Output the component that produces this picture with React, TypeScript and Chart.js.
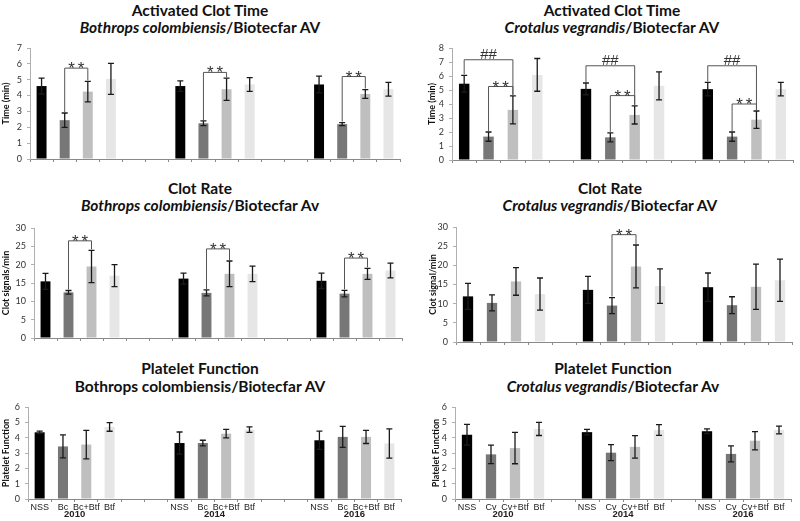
import React, { useEffect, useRef } from "react";
import { Chart, registerables } from "chart.js";
Chart.register(...registerables);

const YEARS = ["2010", "2014", "2016"];
const BC_TREATMENTS = ["NSS", "Bc", "Bc+Btf", "Btf"];
const CV_TREATMENTS = ["NSS", "Cv", "Cv+Btf", "Btf"];
const TREATMENT_COLORS = ["#000000", "#777777", "#bfbfbf", "#e6e6e6"];

// Activated Clot Time (min) — Bothrops colombiensis; per year: NSS, Bc, Bc+Btf, Btf
const actBcMean = [4.6, 2.45, 4.25, 5.05, 4.6, 2.25, 4.4, 4.7, 4.7, 2.2, 4.1, 4.4];
const actBcErr = [0.5, 0.45, 0.65, 0.98, 0.33, 0.15, 0.7, 0.43, 0.53, 0.1, 0.28, 0.43];
// Activated Clot Time (min) — Crotalus vegrandis
const actCvMean = [5.45, 1.67, 3.58, 6.08, 5.08, 1.62, 3.22, 5.3, 5.06, 1.67, 2.88, 5.06];
const actCvErr = [0.6, 0.33, 1.0, 1.17, 0.42, 0.32, 0.65, 1.0, 0.48, 0.33, 0.62, 0.48];
// Clot Rate (signals/min) — Bothrops colombiensis
const crBcMean = [15.45, 12.45, 19.5, 17.0, 16.2, 12.3, 17.5, 17.5, 15.6, 12.1, 17.5, 18.4];
const crBcErr = [2.2, 0.5, 4.4, 3.0, 1.5, 0.8, 3.5, 2.1, 2.1, 0.9, 1.5, 2.0];
// Clot Rate — Crotalus vegrandis
const crCvMean = [11.9, 10.2, 15.8, 12.5, 13.6, 9.5, 19.7, 14.6, 14.3, 9.6, 14.4, 16.1];
const crCvErr = [3.4, 2.1, 3.6, 4.2, 3.5, 2.1, 5.6, 4.5, 3.7, 2.2, 5.9, 5.5];
// Platelet Function — Bothrops colombiensis
const pfBcMean = [4.35, 3.43, 3.55, 4.7, 3.65, 3.65, 4.26, 4.52, 3.83, 4.05, 4.05, 3.62];
const pfBcErr = [0.08, 0.75, 0.93, 0.28, 0.72, 0.18, 0.28, 0.18, 0.6, 0.68, 0.43, 0.95];
// Platelet Function — Crotalus vegrandis
const pfCvMean = [4.19, 2.91, 3.32, 4.57, 4.36, 3.02, 3.4, 4.5, 4.42, 2.94, 3.8, 4.5];
const pfCvErr = [0.68, 0.6, 1.02, 0.43, 0.18, 0.52, 0.73, 0.35, 0.15, 0.52, 0.6, 0.25];

// Significance brackets: year group, from treatment, to treatment, bracket level (y units), mark
const actBcBrackets = [
  { group: 0, from: 1, to: 2, level: 5.73, mark: "**" },
  { group: 1, from: 1, to: 2, level: 5.46, mark: "**" },
  { group: 2, from: 1, to: 2, level: 5.2, mark: "**" },
];
const actCvBrackets = [
  { group: 0, from: 0, to: 2, level: 7.16, mark: "##" },
  { group: 0, from: 1, to: 2, level: 5.25, mark: "**" },
  { group: 1, from: 0, to: 2, level: 6.73, mark: "##" },
  { group: 1, from: 1, to: 2, level: 4.6, mark: "**" },
  { group: 2, from: 0, to: 2, level: 6.73, mark: "##" },
  { group: 2, from: 1, to: 2, level: 4.0, mark: "**" },
];
const crBcBrackets = [
  { group: 0, from: 1, to: 2, level: 26.5, mark: "**" },
  { group: 1, from: 1, to: 2, level: 24.3, mark: "**" },
  { group: 2, from: 1, to: 2, level: 21.8, mark: "**" },
];
const crCvBrackets = [{ group: 1, from: 1, to: 2, level: 28.0, mark: "**" }];
const noBrackets: any[] = [];

type Geom = { plotLeft: number; plotTop: number; plotRight: number; plotBottom: number; yw: number; xh: number; right: number };

type Panel = {
  key: string;
  treatments: string[];
  gap: number;
  means: number[];
  errs: number[];
  brackets: any[];
  yMax: number;
  yStep: number;
  yTitle: string;
  showX: boolean;
  g: Geom;
  t1: string;
  t2i: string;
  t2: string;
  tcx: number;
  ty1: number;
  ty2: number;
};

const PANELS: Panel[] = [
  {
    key: "tl", treatments: BC_TREATMENTS, gap: 2, means: actBcMean, errs: actBcErr, brackets: actBcBrackets,
    yMax: 7, yStep: 1, yTitle: "Time (min)", showX: false,
    g: { plotLeft: 30, plotTop: 48, plotRight: 400, plotBottom: 159, yw: 30, xh: 8, right: 405 },
    t1: "Activated Clot Time", t2i: "Bothrops colombiensis", t2: "/Biotecfar AV", tcx: 200, ty1: 10, ty2: 27,
  },
  {
    key: "tr", treatments: CV_TREATMENTS, gap: 1, means: actCvMean, errs: actCvErr, brackets: actCvBrackets,
    yMax: 8, yStep: 1, yTitle: "Time (min)", showX: false,
    g: { plotLeft: 452, plotTop: 48, plotRight: 793, plotBottom: 160, yw: 26, xh: 8, right: 800 },
    t1: "Activated Clot Time", t2i: "Crotalus vegrandis", t2: "/Biotecfar AV", tcx: 612, ty1: 10, ty2: 27,
  },
  {
    key: "ml", treatments: BC_TREATMENTS, gap: 2, means: crBcMean, errs: crBcErr, brackets: crBcBrackets,
    yMax: 30, yStep: 5, yTitle: "Clot signals/min", showX: false,
    g: { plotLeft: 34, plotTop: 228, plotRight: 402, plotBottom: 338, yw: 34, xh: 8, right: 405 },
    t1: "Clot Rate", t2i: "Bothrops colombiensis", t2: "/Biotecfar Av", tcx: 200, ty1: 188, ty2: 205,
  },
  {
    key: "mr", treatments: CV_TREATMENTS, gap: 1, means: crCvMean, errs: crCvErr, brackets: crCvBrackets,
    yMax: 30, yStep: 5, yTitle: "Clot signal/min", showX: false,
    g: { plotLeft: 456, plotTop: 227, plotRight: 792, plotBottom: 342, yw: 29, xh: 8, right: 800 },
    t1: "Clot Rate", t2i: "Crotalus vegrandis", t2: "/Biotecfar AV", tcx: 610, ty1: 188, ty2: 205,
  },
  {
    key: "bl", treatments: BC_TREATMENTS, gap: 2, means: pfBcMean, errs: pfBcErr, brackets: noBrackets,
    yMax: 6, yStep: 1, yTitle: "Platelet Function", showX: true,
    g: { plotLeft: 28, plotTop: 407, plotRight: 401, plotBottom: 499, yw: 28, xh: 22, right: 405 },
    t1: "Platelet Function", t2i: "", t2: "Bothrops colombiensis/Biotecfar AV", tcx: 200, ty1: 368, ty2: 386,
  },
  {
    key: "br", treatments: CV_TREATMENTS, gap: 1, means: pfCvMean, errs: pfCvErr, brackets: noBrackets,
    yMax: 6, yStep: 1, yTitle: "Platelet Function", showX: true,
    g: { plotLeft: 455, plotTop: 407, plotRight: 791, plotBottom: 499, yw: 25, xh: 22, right: 800 },
    t1: "Platelet Function", t2i: "Crotalus vegrandis", t2: "/Biotecfar Av", tcx: 613, ty1: 368, ty2: 386,
  },
];

const PT = 8;

function buildSlots(p: Panel) {
  const labels: string[] = [];
  const data: (number | null)[] = [];
  const colors: string[] = [];
  YEARS.forEach((_, g) => {
    p.treatments.forEach((t, i) => {
      labels.push(t);
      data.push(p.means[g * 4 + i]);
      colors.push(TREATMENT_COLORS[i]);
    });
    if (g < YEARS.length - 1) {
      for (let k = 0; k < p.gap; k++) {
        labels.push("");
        data.push(null);
        colors.push("#ffffff");
      }
    }
  });
  return { labels, data, colors };
}

function overlay(p: Panel) {
  const slot = (g: number, t: number) => g * (4 + p.gap) + t;
  return {
    id: "overlay_" + p.key,
    afterDatasetsDraw(chart: any) {
      const ctx = chart.ctx;
      const meta = chart.getDatasetMeta(0);
      const ys = chart.scales.y;
      ctx.save();
      ctx.strokeStyle = "#1a1a1a";
      ctx.lineWidth = 1.3;
      p.means.forEach((m, k) => {
        const g = Math.floor(k / 4), t = k % 4;
        const x = meta.data[slot(g, t)].x;
        const yt = ys.getPixelForValue(m + p.errs[k]);
        const yb = ys.getPixelForValue(m - p.errs[k]);
        ctx.beginPath();
        ctx.moveTo(x, yt); ctx.lineTo(x, yb);
        ctx.moveTo(x - 3, yt); ctx.lineTo(x + 3, yt);
        ctx.moveTo(x - 3, yb); ctx.lineTo(x + 3, yb);
        ctx.stroke();
      });
      ctx.strokeStyle = "#555555";
      ctx.lineWidth = 1;
      ctx.fillStyle = "#333333";
      ctx.textAlign = "center";
      p.brackets.forEach((b) => {
        const ka = b.group * 4 + b.from, kb = b.group * 4 + b.to;
        const xa = meta.data[slot(b.group, b.from)].x;
        const xb = meta.data[slot(b.group, b.to)].x;
        const yl = ys.getPixelForValue(b.level);
        const ya = ys.getPixelForValue(p.means[ka] + p.errs[ka]) - 1;
        const yb = ys.getPixelForValue(p.means[kb] + p.errs[kb]) - 1;
        ctx.beginPath();
        ctx.moveTo(xa, ya); ctx.lineTo(xa, yl); ctx.lineTo(xb, yl); ctx.lineTo(xb, yb);
        ctx.stroke();
        ctx.textBaseline = "alphabetic";
        if (b.mark === "**") {
          ctx.font = "17px 'Liberation Sans'";
          (ctx as any).letterSpacing = "3px";
          ctx.fillText(b.mark, (xa + xb) / 2 + 1.5, yl + 6);
        } else {
          ctx.font = "15px 'Liberation Sans'";
          (ctx as any).letterSpacing = "0px";
          ctx.fillText(b.mark, (xa + xb) / 2, yl - 1);
        }
      });
      (ctx as any).letterSpacing = "0px";
      if (p.showX) {
        ctx.font = "bold 9.5px 'Liberation Sans'";
        ctx.fillStyle = "#222222";
        ctx.textBaseline = "middle";
        YEARS.forEach((y, g) => {
          const x = (meta.data[slot(g, 1)].x + meta.data[slot(g, 2)].x) / 2;
          ctx.fillText(y, x, chart.chartArea.bottom + 15.5);
        });
      }
      ctx.restore();
    },
  };
}

function PanelChart({ p }: { p: Panel }) {
  const ref = useRef<HTMLCanvasElement>(null);
  const g = p.g;
  const left = g.plotLeft - g.yw;
  const top = g.plotTop - PT;
  const width = g.right - left;
  const height = g.plotBottom + g.xh - top;
  useEffect(() => {
    const { labels, data, colors } = buildSlots(p);
    const chart = new Chart(ref.current as HTMLCanvasElement, {
      type: "bar",
      data: {
        labels,
        datasets: [{ data, backgroundColor: colors, borderWidth: 0, barPercentage: 0.43, categoryPercentage: 1 }],
      },
      options: {
        animation: false,
        responsive: false,
        maintainAspectRatio: false,
        layout: { padding: { top: PT, left: 0, right: g.right - g.plotRight, bottom: 0 } },
        plugins: { legend: { display: false }, tooltip: { enabled: false }, title: { display: false } },
        scales: {
          x: {
            offset: true,
            grid: { display: true, drawOnChartArea: false, drawTicks: true, tickLength: 3, color: "#8a8a8a", offset: true },
            border: { display: true, color: "#8a8a8a", width: 1 },
            ticks: {
              display: p.showX, autoSkip: false, maxRotation: 0, minRotation: 0, padding: 0,
              color: "#222222", font: { family: "'Liberation Sans'", size: 9 },
            },
            afterFit: (s: any) => { s.height = g.xh; s.paddingLeft = 0; s.paddingRight = 0; s.paddingTop = 0; s.paddingBottom = 0; },
          },
          y: {
            min: 0, max: p.yMax,
            grid: { display: true, drawOnChartArea: false, drawTicks: true, tickLength: 3, color: "#b0b0b0" },
            border: { display: true, color: "#b0b0b0", width: 1 },
            ticks: { stepSize: p.yStep, padding: 5, color: "#333333", font: { family: "Lato", size: 9 } },
            title: { display: true, text: p.yTitle, padding: 1, color: "#111111", font: { family: "Lato", size: 9, weight: "bold" } },
            afterFit: (s: any) => { s.width = g.yw; s.paddingLeft = 0; s.paddingRight = 0; s.paddingTop = 0; s.paddingBottom = 0; },
          },
        },
      } as any,
      plugins: [overlay(p)],
    });
    return () => chart.destroy();
  }, []);
  return (
    <canvas
      ref={ref}
      width={width}
      height={height}
      style={{ position: "absolute", left, top, width, height }}
    />
  );
}

function Titles({ p }: { p: Panel }) {
  const base: React.CSSProperties = {
    position: "absolute", left: p.tcx - 200, width: 400, textAlign: "center",
    fontFamily: "Lato", fontWeight: "bold", fontSize: 15.5, lineHeight: "18px", color: "#111", whiteSpace: "nowrap",
  };
  return (
    <>
      <div style={{ ...base, top: p.ty1 - 9 }}>{p.t1}</div>
      <div style={{ ...base, top: p.ty2 - 9 }}>
        {p.t2i ? <i>{p.t2i}</i> : null}
        {p.t2}
      </div>
    </>
  );
}

export default function App() {
  return (
    <div style={{ position: "absolute", left: 0, top: 0, width: 800, height: 521, background: "#ffffff", overflow: "hidden" }}>
      {PANELS.map((p) => (
        <React.Fragment key={p.key}>
          <Titles p={p} />
          <PanelChart p={p} />
        </React.Fragment>
      ))}
    </div>
  );
}
